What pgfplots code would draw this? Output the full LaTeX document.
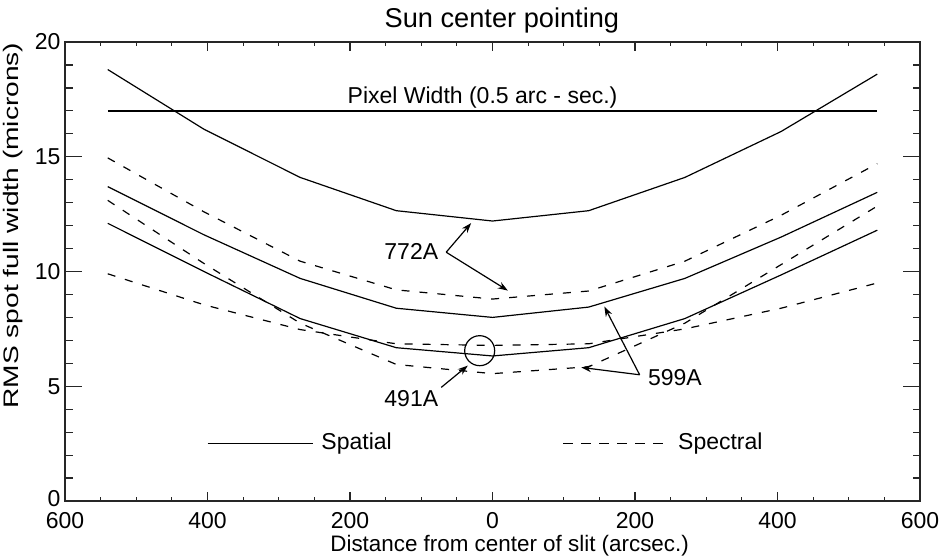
\documentclass[border=0pt]{standalone}
\usepackage{pgfplots}
\pgfplotsset{compat=1.18}
\usepackage{fontspec}
\setmainfont{Liberation Sans}
\newfontfamily\ylabfont{Liberation Sans}[FakeStretch=1.34]
\usetikzlibrary{arrows.meta}
\begin{document}
\begin{tikzpicture}
\pgfplotsset{
  common/.style={
    scale only axis, width=427.5pt, height=229.5pt,
    xmin=-600, xmax=600, ymin=0, ymax=20,
    axis line style={line width=0.7pt, black!85},
    tick style={line width=0.6pt, black!85},
    tick align=inside,
    clip=false,
  },
  curve/.style={black, line width=0.6pt, mark=none},
  dcurve/.style={black, line width=0.6pt, mark=none, dash pattern=on 4pt off 5pt},
}
\begin{axis}[common, name=ax,
  xtick={-600,-400,...,600},
  xticklabels={600,400,200,0,200,400,600},
  minor x tick num=3,
  major tick length=4.5pt, minor tick length=2.2pt,
  ytick=\empty,
  xticklabel style={font=\fontsize{11.5}{13}\selectfont, yshift=-2pt},
  xlabel={Distance from center of slit (arcsec.)},
  xlabel style={font=\fontsize{11.2}{13}\selectfont, at={(axis description cs:0.52,0)}, anchor=base, yshift=-25pt, inner sep=0pt},
  title={Sun center pointing},
  title style={font=\fontsize{13.6}{15}\selectfont, at={(axis description cs:0.511,1)}, anchor=base, yshift=1.5pt, inner sep=0pt},
]
% 772A spatial
\addplot[curve] coordinates {(-540,18.8)(-405,16.2)(-270,14.1)(-135,12.65)(0,12.2)(135,12.65)(270,14.1)(405,16.1)(540,18.6)};
% 772A spectral
\addplot[dcurve] coordinates {(-540,14.95)(-405,12.6)(-270,10.45)(-135,9.2)(0,8.8)(135,9.15)(270,10.45)(405,12.45)(540,14.7)};
% 599A spatial
\addplot[curve] coordinates {(-540,13.7)(-405,11.6)(-270,9.7)(-135,8.4)(0,8.0)(135,8.45)(270,9.7)(405,11.5)(540,13.45)};
% 599A spectral
\addplot[dcurve] coordinates {(-540,13.1)(-405,10.35)(-270,7.75)(-135,5.95)(0,5.55)(135,5.85)(270,7.75)(405,10.3)(540,12.85)};
% 491A spatial
\addplot[curve] coordinates {(-540,12.1)(-405,10.0)(-270,7.95)(-135,6.68)(0,6.32)(135,6.68)(270,7.95)(405,9.85)(540,11.8)};
% 491A spectral
\addplot[dcurve] coordinates {(-540,9.9)(-405,8.55)(-270,7.47)(-135,6.85)(0,6.78)(135,6.85)(270,7.5)(405,8.4)(540,9.5)};
% pixel width
\addplot[curve, line width=0.75pt] coordinates {(-540,17)(540,17)};
% circle
\addplot[only marks, mark=o, mark size=7.5pt, mark options={line width=0.6pt}] coordinates {(-18,6.55)};
% legend samples
\addplot[curve] coordinates {(-400,2.49)(-252,2.49)};
\addplot[dcurve, dash pattern=on 5pt off 4pt] coordinates {(99,2.49)(249,2.49)};
\begin{scope}[font=\fontsize{11.5}{13}\selectfont]
\node[inner sep=0pt] at (axis cs:-14,17.6) {Pixel Width (0.5 arc - sec.)};
\node[inner sep=0pt] at (axis cs:-114,10.87) {772A};
\node[inner sep=0pt] at (axis cs:-114,4.45) {491A};
\node[inner sep=0pt] at (axis cs:256,5.37) {599A};
\node[inner sep=0pt, anchor=west] at (axis cs:-240.6,2.49) {Spatial};
\node[inner sep=0pt, anchor=west] at (axis cs:260,2.49) {Spectral};
\end{scope}
\begin{scope}[line width=0.6pt, -{Stealth[length=5pt,width=3.5pt]}]
\draw (axis cs:-65,10.84) -- (axis cs:-30,12.11);
\draw (axis cs:-65,10.84) -- (axis cs:21.5,9.17);
\draw (axis cs:-72,4.95) -- (axis cs:-34.7,5.9);
\draw (axis cs:206.5,5.5) -- (axis cs:157,8.47);
\draw (axis cs:206.5,5.5) -- (axis cs:124.6,5.82);
\end{scope}
\end{axis}
\begin{axis}[common,
  xtick=\empty,
  ytick={0,5,...,20},
  yticklabels={\raisebox{3pt}{0},5,10,15,20},
  minor y tick num=4,
  major tick length=8.5pt, minor tick length=3.75pt,
  yticklabel style={font=\fontsize{11.5}{13}\selectfont, xshift=1.3pt},
  ylabel={RMS spot full width (microns)},
  ylabel style={font=\ylabfont\fontsize{10.5}{12}\selectfont, at={(axis description cs:-0.049,0.6)}, anchor=south, inner sep=0pt},
]
\end{axis}
\pgfresetboundingbox
\path[use as bounding box] ([shift={(-32.5pt,-28.5pt)}]ax.south west) rectangle ([shift={(12pt,21pt)}]ax.north east);
\end{tikzpicture}
\end{document}
